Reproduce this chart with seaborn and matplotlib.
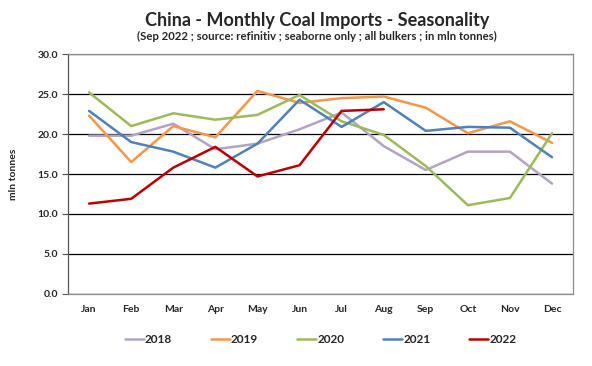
import pandas as pd
import numpy as np
import matplotlib
matplotlib.use("Agg")
import matplotlib.pyplot as plt
import seaborn as sns

# data (mln tonnes)
months = ["Jan", "Feb", "Mar", "Apr", "May", "Jun", "Jul", "Aug", "Sep", "Oct", "Nov", "Dec"]
y2018 = [19.8, 19.8, 21.3, 18.1, 18.8, 20.6, 22.7, 18.5, 15.5, 17.8, 17.8, 13.8]
y2019 = [22.3, 16.5, 21.0, 19.6, 25.4, 23.9, 24.5, 24.7, 23.3, 20.1, 21.6, 18.9]
y2020 = [25.2, 21.0, 22.6, 21.8, 22.4, 24.9, 21.6, 19.9, 16.0, 11.1, 12.0, 20.1]
y2021 = [22.9, 19.0, 17.8, 15.8, 18.8, 24.3, 20.9, 24.0, 20.4, 20.9, 20.8, 17.1]
y2022 = [11.3, 11.9, 15.8, 18.4, 14.7, 16.1, 22.9, 23.1]
years = ["2018", "2019", "2020", "2021", "2022"]
colors = ["#B3A2C7", "#F79646", "#9BBB59", "#4F81BD", "#C00000"]

rows = []
for yr, vals in zip(years, [y2018, y2019, y2020, y2021, y2022]):
    for i, v in enumerate(vals):
        rows.append({"month": i, "year": yr, "value": v})
df = pd.DataFrame(rows)

sns.set_style("white")
plt.rcParams["font.family"] = ["Lato", "DejaVu Sans"]

fig = plt.figure(figsize=(5.92, 3.66), dpi=100)
ax = fig.add_axes([0.115, 0.197, 0.853, 0.655])

sns.lineplot(data=df, x="month", y="value", hue="year", palette=colors,
             linewidth=1.8, ax=ax, legend=True)

ax.set_xlim(-0.5, 11.5)
ax.set_ylim(0, 30)
ax.set_yticks(np.arange(0, 30.1, 5))
ax.set_yticklabels([f"{v:.1f}" for v in np.arange(0, 30.1, 5)], fontsize=7.5, fontweight="bold")
ax.set_xticks(range(12))
ax.set_xticklabels(months, fontsize=7.5, fontweight="bold")
ax.tick_params(axis="x", length=0, pad=8)
ax.tick_params(axis="y", length=4, direction="out", left=True, width=0.8, color="#555555", pad=3)
ax.yaxis.grid(True, color="black", linewidth=0.9)
ax.set_axisbelow(True)
ax.set_xlabel("")
ax.set_ylabel("mln tonnes", fontsize=7.5, fontweight="bold", labelpad=14)

for s in ["top", "right", "bottom"]:
    ax.spines[s].set_color("#8c8c8c")
    ax.spines[s].set_linewidth(0.9)
ax.spines["left"].set_color("#555555")
ax.spines["left"].set_linewidth(0.9)

handles, labels = ax.get_legend_handles_labels()
ax.legend(handles, labels, loc="upper center", bbox_to_anchor=(0.5, -0.125),
          ncol=5, frameon=False, handlelength=1.6, handletextpad=0.1,
          columnspacing=3.3, prop={"size": 8.5, "weight": "bold"})

fig.text(0.535, 0.945, "China - Monthly Coal Imports - Seasonality",
         ha="center", va="center", fontsize=13, fontweight="bold")
fig.text(0.535, 0.900, "(Sep 2022 ; source: refinitiv ; seaborne only ; all bulkers ; in mln tonnes)",
         ha="center", va="center", fontsize=8.2, fontweight="bold")

fig.savefig("out.png", dpi=100)
